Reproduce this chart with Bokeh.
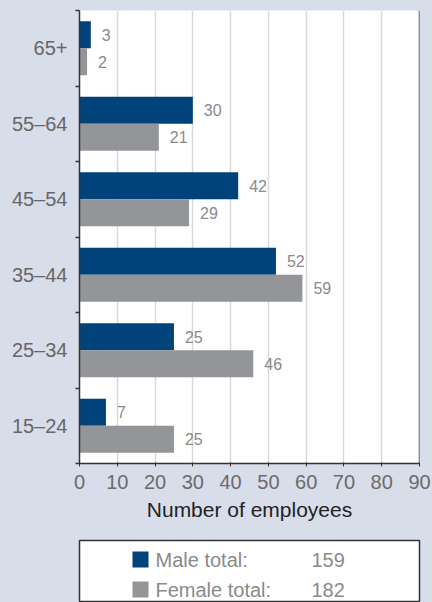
import numpy as np
from bokeh.plotting import figure
from bokeh.models import Range1d, FixedTicker, Span, ColumnDataSource
from bokeh.layouts import column
from bokeh.core.properties import value
from bokeh.embed import file_html
from bokeh.resources import INLINE

# ---- data ----
age_groups = ["15–24", "25–34", "35–44", "45–54", "55–64", "65+"]
male = [7, 25, 52, 42, 30, 3]
female = [25, 46, 59, 29, 21, 2]
x_ticks = [0, 10, 20, 30, 40, 50, 60, 70, 80, 90]
series_labels = ["Male total:", "Female total:"]
x_label = "Number of employees"

MALE_C = "#00427a"
FEMALE_C = "#939598"
BG = "#d8ddea"
FONT = "Liberation Sans"

idx = np.arange(len(age_groups))
bar_h = 0.357
male_y = idx + 0.5 + bar_h / 2
female_y = idx + 0.5 - bar_h / 2

src_m = ColumnDataSource(dict(y=male_y, v=male, t=[str(v) for v in male]))
src_f = ColumnDataSource(dict(y=female_y, v=female, t=[str(v) for v in female]))

p = figure(width=432, height=530, output_backend="svg", toolbar_location=None,
           x_range=Range1d(x_ticks[0], x_ticks[-1]), y_range=Range1d(0, len(age_groups)),
           min_border_left=79, min_border_right=13, min_border_top=10, min_border_bottom=67)
p.background_fill_color = "white"
p.border_fill_color = BG
p.outline_line_color = None

p.hbar(y="y", right="v", left=0, height=bar_h, source=src_m, fill_color=MALE_C, line_color=None)
p.hbar(y="y", right="v", left=0, height=bar_h, source=src_f, fill_color=FEMALE_C, line_color=None)

for s in (src_m, src_f):
    p.text(x="v", y="y", text="t", source=s, x_offset=11, text_align="left",
           text_baseline="middle", text_font=value(FONT), text_font_size="16px",
           text_color="#8a8a8a")

# x axis
p.xaxis.ticker = FixedTicker(ticks=x_ticks)
p.xaxis.axis_label = x_label
p.xaxis.axis_label_text_font = FONT
p.xaxis.axis_label_text_font_style = "normal"
p.xaxis.axis_label_text_font_size = "21px"
p.xaxis.axis_label_text_color = "#222222"
p.xaxis.axis_label_standoff = 6
p.xaxis.major_label_text_font = FONT
p.xaxis.major_label_text_font_size = "20px"
p.xaxis.major_label_text_color = "#6b6b6b"
p.xaxis.major_label_standoff = 8
p.xaxis.axis_line_color = "#333333"
p.xaxis.axis_line_width = 1.5
p.xaxis.major_tick_line_color = "#333333"
p.xaxis.major_tick_in = 1
p.xaxis.major_tick_out = 3
p.xaxis.minor_tick_line_color = None

# y axis
centers = list(idx + 0.5)
p.yaxis.ticker = FixedTicker(ticks=centers, minor_ticks=list(range(len(age_groups) + 1)))
p.yaxis.major_label_overrides = {float(c): g for c, g in zip(centers, age_groups)}
p.yaxis.major_label_text_font = FONT
p.yaxis.major_label_text_font_size = "20px"
p.yaxis.major_label_text_color = "#666666"
p.yaxis.major_tick_line_color = None
p.yaxis.major_tick_in = 0
p.yaxis.major_tick_out = 0
p.yaxis.major_label_standoff = 8
p.yaxis.minor_tick_line_color = "#333333"
p.yaxis.minor_tick_in = 0
p.yaxis.minor_tick_out = 4
p.yaxis.minor_tick_line_width = 1.5
p.yaxis.axis_line_color = "#333333"
p.yaxis.axis_line_width = 1.5

p.xgrid.grid_line_color = "#d9d9d9"
p.xgrid.grid_line_width = 1.5
p.ygrid.grid_line_color = None

p.add_layout(Span(location=x_ticks[-1], dimension="height", line_color="#333333", line_width=1.5))

# ---- legend box ----
totals = [sum(male), sum(female)]
leg = figure(width=432, height=72, output_backend="svg", toolbar_location=None,
             x_range=Range1d(0, 340), y_range=Range1d(62, 0),
             min_border_left=79, min_border_right=13, min_border_top=10, min_border_bottom=0)
leg.axis.visible = False
leg.grid.visible = False
leg.background_fill_color = "white"
leg.border_fill_color = BG
leg.outline_line_color = "#333333"
leg.outline_line_width = 1.5

row_y = [19, 49]
lsrc = ColumnDataSource(dict(
    sx=[61, 61], y=row_y, c=[MALE_C, FEMALE_C], lab=series_labels,
    lx=[76, 76], tx=[232, 232], tot=[str(t) for t in totals]))
leg.scatter(x="sx", y="y", marker="square", size=16, fill_color="c", line_color=None, source=lsrc)
leg.text(x="lx", y="y", text="lab", source=lsrc, text_baseline="middle", text_align="left",
         text_font=value(FONT), text_font_size="20px", text_color="#8a8a8a")
leg.text(x="tx", y="y", text="tot", source=lsrc, text_baseline="middle", text_align="left",
         text_font=value(FONT), text_font_size="20px", text_color="#8a8a8a")

layout = column(p, leg, spacing=0)
html = file_html(layout, INLINE)
html = html.replace("</head>", "<style>body{background:%s}</style></head>" % BG, 1)
open("out.html", "w").write(html)
